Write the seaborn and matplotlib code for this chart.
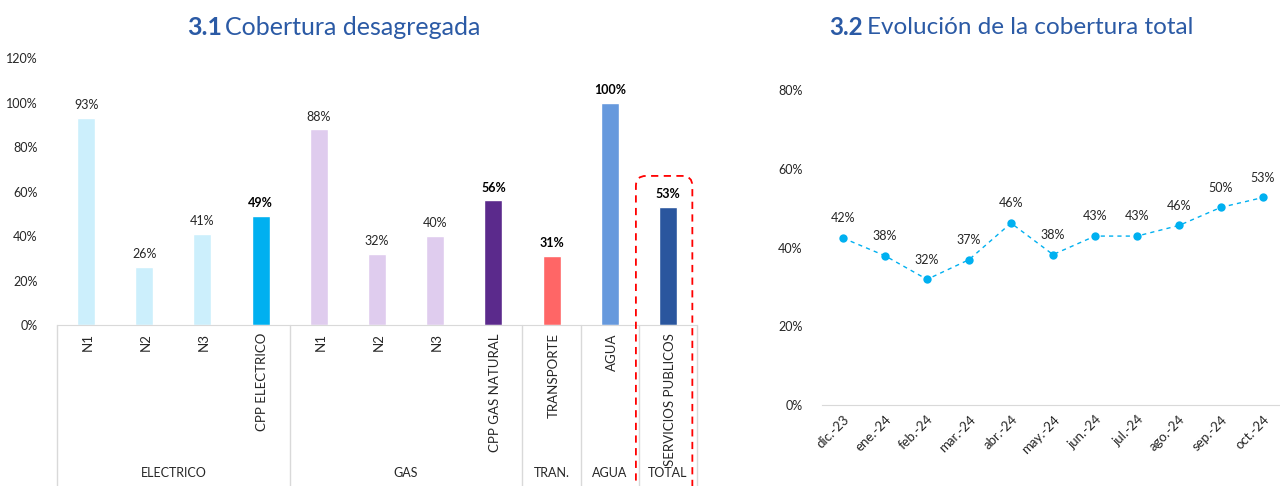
import numpy as np
import pandas as pd
import matplotlib.pyplot as plt
import seaborn as sns
from matplotlib.patches import FancyBboxPatch
from matplotlib.transforms import blended_transform_factory, IdentityTransform

# datos 3.1
categorias = ["N1", "N2", "N3", "CPP ELECTRICO", "N1", "N2", "N3", "CPP GAS NATURAL",
              "TRANSPORTE", "AGUA", "SERVICIOS PUBLICOS"]
cobertura = [0.93, 0.26, 0.41, 0.49, 0.88, 0.32, 0.40, 0.56, 0.31, 1.00, 0.53]
destacado = [False, False, False, True, False, False, False, True, True, True, True]
colores = ["#CCEFFC", "#CCEFFC", "#CCEFFC", "#00B0F0", "#DFCCEE", "#DFCCEE", "#DFCCEE",
           "#5B2A8C", "#FF6666", "#6699DD", "#2A569E"]
grupos = ["ELECTRICO", "GAS", "TRAN.", "AGUA", "TOTAL"]
grupo_tam = [4, 4, 1, 1, 1]

# datos 3.2
meses = ["dic.-23", "ene.-24", "feb.-24", "mar.-24", "abr.-24", "may.-24",
         "jun.-24", "jul.-24", "ago.-24", "sep.-24", "oct.-24"]
evolucion = [0.424, 0.379, 0.319, 0.369, 0.462, 0.382, 0.429, 0.429, 0.456, 0.502, 0.527]

sns.set_style("white")
plt.rcParams['font.family'] = ['Lato', 'DejaVu Sans']
titulo_color = "#2B5AA5"
gris = "#D9D9D9"
texto = "#262626"

fig = plt.figure(figsize=(12.8, 4.86), dpi=100)
ax1 = fig.add_axes([57 / 1280, 161 / 486, 640 / 1280, 267 / 486])
ax2 = fig.add_axes([822 / 1280, 81 / 486, 462 / 1280, 315 / 486])

# 1. barras
df = pd.DataFrame({"idx": range(len(categorias)), "valor": cobertura})
sns.barplot(data=df, x="idx", y="valor", hue="idx", palette=colores, width=0.31,
            dodge=False, legend=False, saturation=1, ax=ax1)
ax1.set_ylim(0, 1.2)
ax1.set_xlim(-0.5, len(categorias) - 0.5)
ax1.set_yticks(np.arange(0, 1.21, 0.2))
ax1.set_yticklabels([f"{int(round(v * 100))}%" for v in np.arange(0, 1.21, 0.2)],
                    fontsize=9, color=texto)
ax1.set_xticks([])
ax1.set_xlabel("")
ax1.set_ylabel("")
ax1.tick_params(axis="y", length=0, pad=14)
for s in ["top", "right", "left"]:
    ax1.spines[s].set_visible(False)
ax1.spines["bottom"].set_color(gris)

for i, (v, b) in enumerate(zip(cobertura, destacado)):
    ax1.text(i, v + 0.03, f"{int(round(v * 100))}%", ha="center", va="bottom",
             fontsize=9, color="black" if b else texto,
             fontweight="bold" if b else "normal")

tr = blended_transform_factory(ax1.transData, ax1.transAxes)
for i, c in enumerate(categorias):
    ax1.text(i + 0.03, -0.03, c, rotation=90, ha="center", va="top", fontsize=9.5,
             color=texto, transform=tr)

bordes = np.concatenate([[0], np.cumsum(grupo_tam)]) - 0.5
for b in bordes:
    ax1.plot([b, b], [0, -0.61], color=gris, lw=1, transform=tr, clip_on=False)
for g, a, bb in zip(grupos, bordes[:-1], bordes[1:]):
    ax1.text((a + bb) / 2, -0.555, g, ha="center", va="center", fontsize=9,
             color=texto, transform=tr)

# recuadro rojo en TOTAL
fig.canvas.draw()
x0, y0 = ax1.transData.transform((9.5 - 0.05, 0.0))
x1, y1 = ax1.transData.transform((10.5 - 0.08, 0.67))
caja = FancyBboxPatch((x0, -30), x1 - x0, y1 + 30, boxstyle="round,pad=0,rounding_size=10",
                      fill=False, ec="#FF0000", lw=1.3, ls=(0, (4, 3)),
                      transform=IdentityTransform(), clip_on=False)
fig.patches.append(caja)

# 2. linea
df2 = pd.DataFrame({"pos": range(len(meses)), "valor": evolucion})
sns.lineplot(data=df2, x="pos", y="valor", ax=ax2, color="#00B0F0", lw=1,
             linestyle=(0, (3, 3)), marker="o", markersize=6, markeredgewidth=0)
ax2.set_ylim(0, 0.8)
ax2.set_xlim(-0.5, len(meses) - 0.5)
ax2.set_yticks(np.arange(0, 0.81, 0.2))
ax2.set_yticklabels([f"{int(round(v * 100))}%" for v in np.arange(0, 0.81, 0.2)],
                    fontsize=9, color=texto)
ax2.set_xticks(range(len(meses)))
ax2.set_xticklabels(meses, rotation=45, ha="right", rotation_mode="anchor",
                    fontsize=9.5, color=texto)
ax2.tick_params(axis="both", length=0)
ax2.tick_params(axis="y", pad=14)
ax2.tick_params(axis="x", pad=6)
ax2.set_xlabel("")
ax2.set_ylabel("")
for s in ["top", "right", "left"]:
    ax2.spines[s].set_visible(False)
ax2.spines["bottom"].set_color(gris)
for i, v in enumerate(evolucion):
    ax2.text(i, v + 0.035, f"{int(round(v * 100))}%", ha="center", va="bottom",
             fontsize=9, color=texto)

# titulos
fig.text(0.1734, 0.944, "3.1", fontsize=18, fontweight="bold", color=titulo_color,
         ha="right", va="center")
fig.text(0.1756, 0.944, "Cobertura desagregada", fontsize=18, color=titulo_color,
         ha="left", va="center")
fig.text(0.674, 0.944, "3.2", fontsize=17.5, fontweight="bold", color=titulo_color,
         ha="right", va="center")
fig.text(0.677, 0.944, "Evolución de la cobertura total", fontsize=17.5, color=titulo_color,
         ha="left", va="center")

fig.savefig("out.png", dpi=100)
